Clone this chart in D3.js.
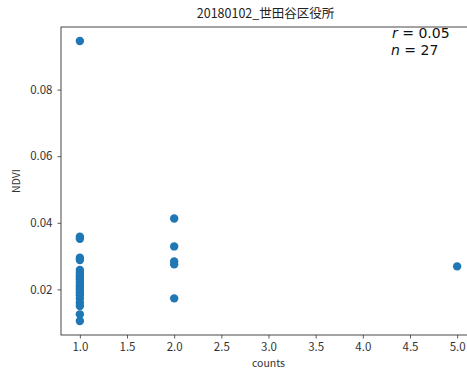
<!DOCTYPE html>
<html><head><meta charset="utf-8">
<script src="https://cdn.jsdelivr.net/npm/d3@7"></script>
<style>body{margin:0;background:#fff;} svg{display:block;} text{font-family:"Noto Sans CJK JP","DejaVu Sans",sans-serif;} text.ann{font-family:"DejaVu Sans",sans-serif;white-space:pre;}</style>
</head><body><svg id="c" width="467" height="369"></svg>
<script>
const title = "20180102_世田谷区役所";
const xCounts = [1,1,1,1,1,1,1,1,1,1,1,1,1,1,1,1,1,1,1,1,1, 2,2,2,2,2, 5];
const ndvi = [0.0946,0.0358,0.0352,0.0295,0.0288,0.0258,0.0250,0.0242,0.0235,0.0228,0.0220,0.0212,0.0205,0.0198,0.0190,0.0182,0.0172,0.0160,0.0150,0.0125,0.0105,
              0.0413,0.0329,0.0284,0.0275,0.0173,
              0.0269];
const xTicks = [1.0,1.5,2.0,2.5,3.0,3.5,4.0,4.5,5.0];
const yTicks = [0.02,0.04,0.06,0.08];
const rText = "0.05", nText = "27";

const svg = d3.select("#c");
const L = 61, T = 27, R = 476, B = 335;
const xmin = d3.min(xCounts), xmax = d3.max(xCounts);
const ymin = d3.min(ndvi), ymax = d3.max(ndvi);
const xm = (xmax-xmin)*0.05, ym = (ymax-ymin)*0.05;
const x = d3.scaleLinear().domain([xmin-xm, xmax+xm]).range([L, R]);
const y = d3.scaleLinear().domain([ymin-ym, ymax+ym]).range([B, T]);

const pts = xCounts.map((c,i)=>({c, v: ndvi[i]}));
svg.append("g").selectAll("circle").data(pts).join("circle")
  .attr("cx", d=>x(d.c)).attr("cy", d=>y(d.v)).attr("r", 4.2)
  .attr("fill", "#1f77b4");

const xa = svg.append("g").attr("transform", `translate(0,${B})`)
  .call(d3.axisBottom(x).tickValues(xTicks).tickFormat(d3.format(".1f")).tickSize(3.5).tickPadding(4));
const ya = svg.append("g").attr("transform", `translate(${L},0)`)
  .call(d3.axisLeft(y).tickValues(yTicks).tickFormat(d3.format(".2f")).tickSize(3.5).tickPadding(5));
[xa, ya].forEach(a=>{
  a.select(".domain").remove();
  a.selectAll("line").attr("stroke","#333").attr("stroke-width",0.8);
  a.selectAll("text").attr("fill","#333").style("font-size","11.5px");
});
svg.append("rect").attr("x",L).attr("y",T).attr("width",R-L).attr("height",B-T)
  .attr("fill","none").attr("stroke","#333").attr("stroke-width",0.9);

svg.append("text").attr("x",(L+R)/2 - 3).attr("y",18).attr("text-anchor","middle")
  .style("font-size","12.5px").attr("fill","#222").text(title);
svg.append("text").attr("x",(L+R)/2).attr("y",367).attr("text-anchor","middle")
  .style("font-size","10.5px").attr("fill","#333").text("counts");
svg.append("text").attr("transform",`translate(20,${(T+B)/2}) rotate(-90)`).attr("text-anchor","middle")
  .style("font-size","10.5px").attr("fill","#333").text("NDVI");

const t1 = svg.append("text").attr("class","ann").attr("x",392).attr("y",38)
  .style("font-size","14px").attr("fill","#111");
t1.append("tspan").style("font-style","italic").text("r");
t1.append("tspan").text(" = " + rText);
const t2 = svg.append("text").attr("class","ann").attr("x",391).attr("y",55)
  .style("font-size","14px").attr("fill","#111");
t2.append("tspan").style("font-style","italic").text("n");
t2.append("tspan").text(" = " + nText);
</script></body></html>
